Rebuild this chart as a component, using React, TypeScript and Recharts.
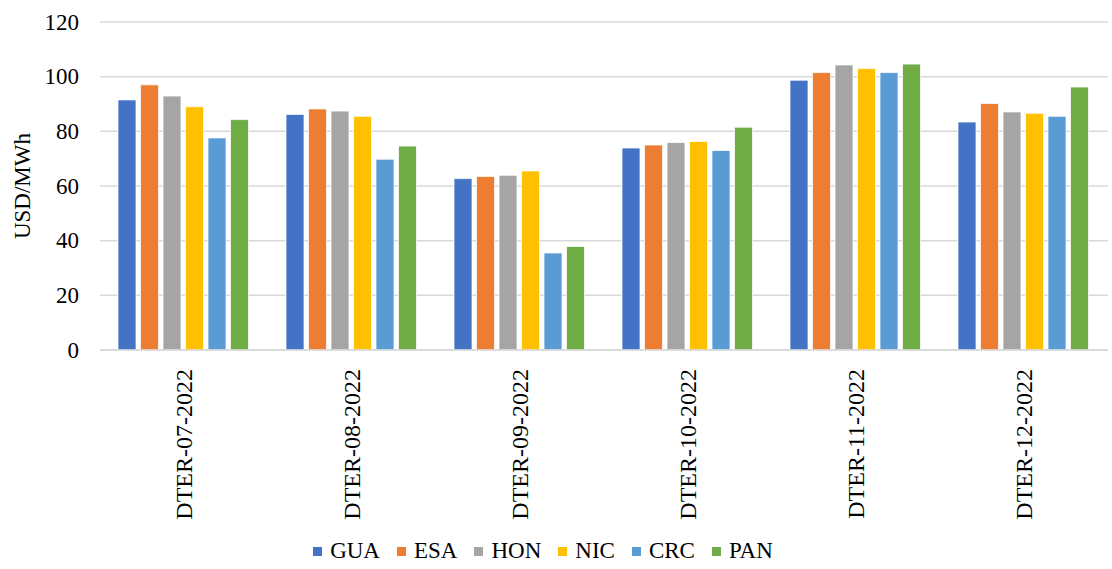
import React from 'react';
import { BarChart, Bar, XAxis, YAxis, CartesianGrid, Legend } from 'recharts';

const categories = ['DTER-07-2022', 'DTER-08-2022', 'DTER-09-2022', 'DTER-10-2022', 'DTER-11-2022', 'DTER-12-2022'];
const GUA = [91.5, 86.2, 62.7, 73.9, 98.7, 83.4];
const ESA = [97.0, 88.2, 63.5, 75.0, 101.5, 90.2];
const HON = [92.9, 87.4, 63.9, 75.9, 104.3, 87.1];
const NIC = [89.0, 85.5, 65.5, 76.3, 103.0, 86.6];
const CRC = [77.6, 69.8, 35.5, 73.0, 101.5, 85.5];
const PAN = [84.3, 74.6, 37.9, 81.5, 104.6, 96.2];
const yTicks = [0, 20, 40, 60, 80, 100, 120];

const seriesNames = ['GUA', 'ESA', 'HON', 'NIC', 'CRC', 'PAN'];
const seriesValues = [GUA, ESA, HON, NIC, CRC, PAN];
const colors = ['#4472C4', '#ED7D31', '#A5A5A5', '#FFC000', '#5B9BD5', '#70AD47'];

const data = categories.map((c, i) => {
  const row: Record<string, string | number> = { name: c };
  seriesNames.forEach((s, j) => {
    row[s] = seriesValues[j][i];
  });
  return row;
});

const FONT = "'Liberation Serif', Tinos, 'Times New Roman', Times, 'DejaVu Serif', serif";
const FS = 23;

const XTick = (props: any) => {
  const { x, y, payload } = props;
  const tx = x;
  const ty = y + 11;
  return (
    <text
      x={tx}
      y={ty}
      transform={`rotate(-90 ${tx} ${ty})`}
      textAnchor="end"
      dominantBaseline="central"
      style={{ fontFamily: FONT, fontSize: 24 }}
      fill="#000"
    >
      {payload.value}
    </text>
  );
};

const YTick = (props: any) => {
  const { x, y, payload } = props;
  return (
    <text
      x={x}
      y={y}
      textAnchor="end"
      dominantBaseline="central"
      style={{ fontFamily: FONT, fontSize: FS }}
      fill="#000"
    >
      {payload.value}
    </text>
  );
};

const LegendContent = () => (
  <div
    style={{
      display: 'flex',
      justifyContent: 'center',
      alignItems: 'center',
      height: 36,
      paddingRight: 22,
      fontFamily: FONT,
      fontSize: FS,
      color: '#000',
    }}
  >
    {seriesNames.map((s, i) => (
      <div key={s} style={{ display: 'flex', alignItems: 'center', marginRight: i < seriesNames.length - 1 ? 17 : 0 }}>
        <div style={{ width: 9, height: 9, background: colors[i], marginRight: 8 }} />
        <span>{s}</span>
      </div>
    ))}
  </div>
);

const YLabel = () => (
  <text
    x={22}
    y={186}
    transform="rotate(-90 22 186)"
    textAnchor="middle"
    dominantBaseline="central"
    style={{ fontFamily: FONT, fontSize: FS }}
    fill="#000"
  >
    USD/MWh
  </text>
);

export default function App() {
  return (
    <div style={{ position: 'absolute', left: 0, top: 0, width: 1112, height: 569, background: '#fff', fontFamily: FONT }}>
      <BarChart
        width={1112}
        height={569}
        data={data}
        margin={{ top: 22, right: 4, left: 0, bottom: 0 }}
        barCategoryGap={18}
        barGap={4.5}
      >
        <CartesianGrid vertical={false} stroke="#D9D9D9" strokeWidth={1.5} />
        <XAxis
          dataKey="name"
          interval={0}
          tick={<XTick />}
          tickLine={false}
          axisLine={{ stroke: '#D9D9D9', strokeWidth: 1.5 }}
          height={183}
        />
        <YAxis
          width={100}
          domain={[0, 120]}
          ticks={yTicks}
          interval={0}
          tickLine={false}
          axisLine={false}
          tickSize={0}
          tickMargin={21}
          tick={<YTick />}
          label={{ content: () => <YLabel /> }}
        />
        <Legend verticalAlign="bottom" height={36} content={() => <LegendContent />} />
        {seriesNames.map((s, i) => (
          <Bar
            key={s}
            dataKey={s}
            fill={colors[i]}
            stroke="#fff"
            strokeWidth={0.75}
            isAnimationActive={false}
          />
        ))}
      </BarChart>
    </div>
  );
}
